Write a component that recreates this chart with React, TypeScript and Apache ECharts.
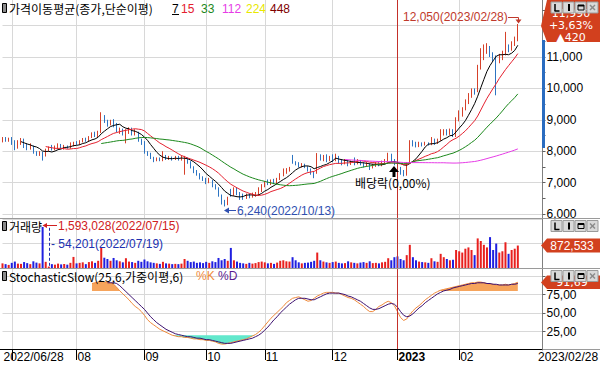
import React, { useEffect, useRef } from 'react';
import * as echarts from 'echarts';

// ---------------- data ----------------
const MONTH_DAYS: [string, number[]][] = [
  ['2022/06', [28, 29, 30]],
  ['2022/07', [1, 4, 5, 6, 7, 8, 11, 12, 13, 14, 15, 18, 19, 20, 21, 22, 25, 26, 27, 28, 29]],
  ['2022/08', [1, 2, 3, 4, 5, 8, 9, 10, 11, 12, 16, 17, 18, 19, 22, 23, 24, 25, 26, 29, 30, 31]],
  ['2022/09', [1, 2, 5, 6, 7, 8, 13, 14, 15, 16, 19, 20, 21, 22, 23, 26, 27, 28, 29, 30]],
  ['2022/10', [4, 5, 6, 7, 11, 12, 13, 14, 17, 18, 19, 20, 21, 24, 25, 26, 27, 28, 31]],
  ['2022/11', [1, 2, 3, 4, 7, 8, 9, 10, 11, 14, 15, 16, 17, 18, 21, 22, 23, 24, 25, 28, 29, 30]],
  ['2022/12', [1, 2, 5, 6, 7, 8, 9, 12, 13, 14, 15, 16, 19, 20, 21, 22, 23, 26, 27, 28, 29]],
  ['2023/01', [2, 3, 4, 5, 6, 9, 10, 11, 12, 13, 16, 17, 18, 19, 20, 25, 26, 27, 30, 31]],
  ['2023/02', [1, 2, 3, 6, 7, 8, 9, 10, 13, 14, 15, 16, 17, 20, 21, 22, 23, 24, 27, 28]],
];

// [open, close, low, high]
const CANDLES: number[][] = [
  [8300, 8420, 8280, 8450], [8420, 8330, 8300, 8450], [8330, 8400, 8300, 8430], [8400, 8250, 8200, 8450], [8300, 8050, 8030, 8350],
  [8100, 8300, 8080, 8350], [8250, 8380, 8200, 8420], [8380, 8150, 8100, 8400], [8200, 8080, 8030, 8250], [8080, 8200, 8050, 8250],
  [8150, 7950, 7920, 8180], [7950, 7880, 7850, 8000], [7880, 7950, 7850, 8000], [7950, 7820, 7700, 7980], [7850, 8050, 7830, 8080],
  [8050, 8120, 8000, 8150], [8120, 8050, 8020, 8200], [8050, 8150, 8030, 8180], [8100, 8200, 8080, 8250], [8200, 8100, 8080, 8230],
  [8100, 8150, 8050, 8200], [8150, 8100, 8080, 8180], [8100, 8250, 8080, 8280], [8200, 8280, 8150, 8300], [8280, 8220, 8200, 8320],
  [8220, 8330, 8200, 8350], [8300, 8380, 8280, 8420], [8400, 8320, 8300, 8430], [8330, 8450, 8300, 8480], [8450, 8550, 8420, 8600],
  [8600, 8480, 8450, 8620], [8500, 8600, 8450, 8650], [8600, 9100, 8580, 9240], [9100, 8950, 8900, 9150], [8950, 8850, 8780, 9000],
  [8850, 8950, 8820, 9000], [8950, 8800, 8760, 9020], [8850, 8650, 8600, 8900], [8650, 8700, 8550, 8750], [8700, 8550, 8500, 8720],
  [8550, 8620, 8250, 8700], [8600, 8720, 8550, 8760], [8720, 8550, 8500, 8750], [8550, 8650, 8500, 8700], [8600, 8350, 8300, 8620],
  [8350, 8300, 8200, 8400], [8300, 7950, 7920, 8320], [7950, 7900, 7850, 8000], [7900, 7780, 7750, 7950], [7800, 7700, 7650, 7820],
  [7700, 7780, 7680, 7800], [7780, 7700, 7680, 7800], [7700, 7850, 7680, 8000], [7850, 7750, 7720, 7880], [7750, 7800, 7720, 7850],
  [7800, 7750, 7700, 7830], [7750, 7800, 7720, 7850], [7800, 7720, 7700, 7850], [7720, 7800, 7700, 7870], [7650, 7800, 7250, 7850],
  [7780, 7650, 7600, 7800], [7650, 7500, 7450, 7680], [7500, 7350, 7300, 7520], [7350, 7250, 7220, 7400], [7250, 7150, 7100, 7300],
  [7150, 7100, 7050, 7200], [7100, 7000, 6950, 7150], [7000, 7100, 6980, 7150], [7050, 6900, 6850, 7080], [6900, 6800, 6780, 6950],
  [6800, 6600, 6550, 6850], [6600, 6400, 6300, 6620], [6400, 6300, 6240, 6450], [6300, 6500, 6280, 6550], [6750, 6600, 6550, 6800],
  [6600, 6800, 6580, 6850], [6800, 6650, 6600, 6830], [6650, 6550, 6450, 6700], [6600, 6500, 6450, 6650], [6500, 6600, 6480, 6650],
  [6600, 6550, 6500, 6650], [6550, 6600, 6520, 6680], [6600, 6650, 6550, 6700], [6600, 6800, 6580, 6850], [6750, 6900, 6700, 6950],
  [6900, 7000, 6850, 7050], [7050, 6950, 6920, 7100], [6950, 7050, 6920, 7100], [7050, 6980, 6950, 7120], [6980, 7100, 6950, 7150],
  [7100, 7250, 7080, 7300], [7250, 7350, 7200, 7450], [7300, 7400, 7280, 7460], [7400, 7480, 7350, 7500], [7850, 7650, 7600, 7880],
  [7650, 7580, 7550, 7680], [7600, 7520, 7480, 7650], [7520, 7580, 7480, 7620], [7580, 7500, 7460, 7600], [7500, 7400, 7350, 7520],
  [7400, 7300, 7250, 7450], [7300, 7200, 7140, 7350], [7300, 7850, 7280, 7940], [7850, 7750, 7700, 7900], [7700, 7850, 7680, 7880],
  [7850, 7700, 7650, 7900], [7700, 7800, 7680, 7850], [7850, 7700, 7650, 7900], [7700, 7800, 7680, 7920], [7800, 7650, 7600, 7850],
  [7700, 7600, 7550, 7750], [7600, 7700, 7580, 7750], [7700, 7600, 7520, 7720], [7600, 7650, 7560, 7700], [7700, 7600, 7550, 7800],
  [7600, 7700, 7580, 7750], [7700, 7600, 7550, 7720], [7620, 7550, 7480, 7650], [7550, 7600, 7500, 7650], [7600, 7480, 7400, 7620],
  [7480, 7550, 7450, 7600], [7550, 7600, 7500, 7650], [7600, 7550, 7520, 7650], [7550, 7650, 7520, 7700], [7600, 7700, 7580, 7750],
  [7700, 7900, 7680, 7950], [7900, 7700, 7650, 7920], [7700, 7600, 7550, 7750], [7600, 7400, 7300, 7650], [7450, 7350, 7250, 7500],
  [7350, 7300, 7200, 7400], [7300, 7600, 7220, 7650], [7650, 8300, 7620, 8350], [8300, 8200, 8150, 8350], [8250, 8150, 8120, 8300],
  [8150, 8250, 8130, 8300], [8250, 8200, 8150, 8280], [8200, 8250, 8180, 8300], [8250, 8200, 8180, 8280], [8200, 8400, 8190, 8450],
  [8350, 8250, 8200, 8400], [8250, 8350, 8230, 8400], [8350, 8600, 8330, 8700], [8550, 8650, 8500, 8700], [8650, 8550, 8500, 8700],
  [8550, 8650, 8520, 8720], [8650, 8500, 8450, 8700], [8500, 9000, 8450, 9080], [9000, 9200, 8950, 9300], [9150, 9350, 9100, 9400],
  [9350, 9550, 9300, 9650], [9550, 9750, 9500, 9850], [9750, 9900, 9700, 10000], [9950, 9850, 9800, 10000], [9900, 10650, 9880, 10750],
  [10650, 11100, 10600, 11280], [11050, 11200, 10900, 11400], [11200, 11350, 11100, 11440], [11300, 11050, 11000, 11350], [11050, 10950, 10850, 11150],
  [11000, 10850, 9780, 11050], [10850, 11000, 10800, 11100], [10950, 11100, 10900, 11200], [11100, 11300, 11050, 11800], [11300, 11250, 11150, 11400],
  [11250, 11400, 11200, 11500], [11400, 11570, 11350, 11650], [11570, 11990, 11500, 12050],
];

const VOLUMES: number[] = [
  180000, 150000, 120000, 200000, 250000, 170000, 160000, 230000, 190000, 150000,
  260000, 210000, 180000, 1593028, 240000, 54201, 150000, 130000, 170000, 140000,
  160000, 130000, 200000, 430000, 180000, 200000, 220000, 150000, 230000, 260000,
  200000, 280000, 780000, 400000, 350000, 280000, 390000, 300000, 260000, 220000,
  380000, 250000, 230000, 200000, 280000, 240000, 330000, 260000, 220000, 200000,
  180000, 160000, 240000, 180000, 170000, 150000, 160000, 150000, 170000, 350000,
  280000, 230000, 250000, 200000, 220000, 190000, 240000, 200000, 260000, 230000,
  390000, 300000, 350000, 280000, 780000, 300000, 250000, 200000, 180000, 160000,
  200000, 170000, 190000, 230000, 250000, 220000, 180000, 200000, 160000, 210000,
  280000, 300000, 260000, 250000, 420000, 300000, 220000, 180000, 200000, 210000,
  240000, 280000, 600000, 300000, 250000, 220000, 200000, 230000, 250000, 200000,
  180000, 190000, 260000, 220000, 200000, 180000, 210000, 230000, 200000, 260000,
  190000, 200000, 180000, 220000, 240000, 380000, 300000, 420000, 450000, 350000,
  300000, 500000, 900000, 420000, 300000, 250000, 230000, 220000, 200000, 380000,
  260000, 240000, 550000, 420000, 350000, 300000, 320000, 700000, 650000, 600000,
  750000, 800000, 700000, 500000, 1150000, 1050000, 900000, 800000, 1200000, 700000,
  950000, 600000, 650000, 1000000, 550000, 700000, 750000, 872533,
];

// Stochastic slow %K / %D (first value at trading day index 29 / 34)
const STOCH_K_START = 29;
const STOCH_K: number[] = [
  90, 91, 92, 93, 92, 92, 91, 89, 85, 80, 76, 72, 68, 63, 59, 56, 52, 47, 41, 37, 34,
  31, 28, 26, 24, 22, 20, 19, 18, 18, 17, 17, 16, 15, 15, 14, 14, 13, 13, 12, 11,
  9, 8, 8, 9, 10, 11, 12, 13, 14, 15, 17, 19, 21, 24, 28, 33, 38, 43, 47, 51,
  55, 59, 64, 67, 70, 71, 72, 70, 68, 66, 67, 70, 73, 75, 77, 78, 78, 78, 77, 77,
  75, 73, 71, 70, 68, 65, 62, 59, 55, 52, 52, 55, 59, 61, 64, 66, 64, 60, 52, 44,
  40, 42, 48, 53, 57, 60, 64, 68, 71, 74, 77, 79, 81, 82, 83, 84, 85, 86, 87, 88,
  89, 90, 91, 91, 92, 92, 91, 90, 89, 89, 88, 88, 88, 89, 88, 89, 90, 91.69,
];
const STOCH_D_START = 34;
const STOCH_D: number[] = [
  91, 91, 91, 90, 87, 83, 79, 75, 71, 67, 63, 59, 55, 50, 45, 41,
  37, 34, 31, 28, 26, 24, 22, 21, 20, 19, 18, 18, 17, 16, 16, 15, 14, 14, 13, 12,
  11, 10, 9, 9, 9, 10, 11, 12, 13, 14, 15, 16, 18, 20, 23, 27, 31, 36, 41, 45,
  50, 54, 58, 62, 65, 68, 70, 70, 70, 69, 68, 68, 70, 72, 74, 76, 77, 77, 77, 77,
  76, 75, 73, 72, 70, 68, 66, 63, 60, 57, 55, 55, 56, 58, 60, 62, 63, 62, 58, 52,
  47, 45, 46, 49, 53, 57, 60, 64, 67, 70, 73, 76, 78, 80, 81, 82, 84, 85, 86, 87,
  88, 89, 90, 90, 91, 91, 91, 90, 90, 89, 89, 88, 88, 88, 88, 89, 89, 90,
];

const MA_PERIODS = [7, 15, 33, 112, 224, 448];
const MA_COLORS = ['#000000', '#e4202e', '#1c881c', '#e63ce6', '#e8e800', '#800000'];
const PRICE_GRID = [6000, 7000, 8000, 9000, 10000, 11000, 12000];
const PRICE_LABELS = [6000, 7000, 8000, 9000, 10000, 11000]; // 12,000 sits under the price badge
const PRICE_MINOR_TICKS = [6500, 7500, 8500, 9500, 10500, 11500, 12500];
const STOCH_GRID = [25, 50, 75, 100];
const STOCH_LABELS = [25, 50, 75];
const STOCH_TITLE = 'StochasticSlow(25,6,가중이평,6)';
const DIVIDEND_TEXT = '배당락(0,00%)';

// ---------------- helpers ----------------
const DATES: string[] = MONTH_DAYS.flatMap(([m, ds]) => ds.map((d) => `${m}/${String(d).padStart(2, '0')}`));
const PAD = 8;
const CATEGORIES = [...DATES, ...Array.from({ length: PAD }, (_, k) => `pad${k}`)];

const UP = '#d6412a';
const DOWN = '#2d74c2';
const VOL_UP = '#e8201e';
const VOL_DOWN = '#1f1fe0';
const GRID_LINE = '#d8d8d8';
const BADGE = '#d2401e';
const NUM_FONT = '"Liberation Sans", "DejaVu Sans", "Noto Sans CJK KR", sans-serif';
const KR_FONT = '"Noto Sans CJK KR", "Liberation Sans", sans-serif';

const fmt = (v: number) => Math.round(v).toLocaleString('en-US');
const dec = (v: number) => v.toFixed(2).replace('.', ',');

function sma(arr: number[], n: number) {
  return arr.map((_, i) => {
    if (i < n - 1) return null;
    let s = 0;
    for (let k = i - n + 1; k <= i; k++) s += arr[k];
    return s / n;
  });
}
const place = (start: number, vals: number[]) =>
  DATES.map((_, i) => (i >= start && i - start < vals.length ? vals[i - start] : null));

function buildOption() {
  const closes = CANDLES.map((c) => c[1]);
  const slowK = place(STOCH_K_START, STOCH_K);
  const slowD = place(STOCH_D_START, STOCH_D);

  const monthStarts = new Set<number>();
  DATES.forEach((d, i) => {
    if (i > 0 && d.slice(0, 7) !== DATES[i - 1].slice(0, 7)) monthStarts.add(i);
  });
  const labelIdx = new Set<number>([0, ...[...monthStarts].filter((i) => i > 10)]);
  const yearStart = DATES.find((d, i) => monthStarts.has(i) && d.slice(5, 7) === '01') as string;

  const last = CANDLES.length - 1;
  const chg = closes[last] - closes[last - 1];
  const pct = (chg / closes[last - 1]) * 100;
  let hiIdx = 0, loIdx = 0;
  CANDLES.forEach((c, i) => {
    if (c[3] > CANDLES[hiIdx][3]) hiIdx = i;
    if (c[2] < CANDLES[loIdx][2]) loIdx = i;
  });
  let vMax = 0, vMin = 0;
  VOLUMES.forEach((v, i) => {
    if (v > VOLUMES[vMax]) vMax = i;
    if (v < VOLUMES[vMin]) vMin = i;
  });
  const lastK = STOCH_K[STOCH_K.length - 1];

  const yearLine = {
    symbol: ['none', 'none'],
    silent: true,
    label: { show: false },
    lineStyle: { color: '#c4302a', width: 1, type: 'solid' },
    data: [{ xAxis: yearStart }],
  };

  const xBase = (gridIndex: number) => ({
    type: 'category',
    gridIndex,
    data: CATEGORIES,
    boundaryGap: false,
    axisLine: { show: false },
    axisTick: { show: false },
    axisLabel: { show: false },
    splitLine: { show: true, interval: (i: number) => monthStarts.has(i), lineStyle: { color: GRID_LINE, width: 1 } },
  });

  const t = (text: string, x: number, y: number, fill: string, font = `12px ${NUM_FONT}`, align = 'left', lineHeight?: number) => ({
    type: 'text',
    z: 60,
    style: {
      text, x, y, fill, font, align, verticalAlign: 'middle', textAlign: align, textVerticalAlign: 'middle',
      ...(lineHeight ? { lineHeight } : {}),
    },
  });
  const ln = (x1: number, y1: number, x2: number, y2: number, stroke: string, z = 60, lineWidth = 1) => ({
    type: 'line',
    z,
    shape: { x1, y1, x2, y2 },
    style: { stroke, lineWidth },
  });
  const poly = (points: number[][], fill: string) => ({ type: 'polygon', z: 60, shape: { points }, style: { fill } });
  const icon = (y: number) => ({ type: 'rect', z: 60, shape: { x: 2.5, y, width: 4, height: 9 }, style: { fill: '#8a8a8a', stroke: '#000', lineWidth: 1 } });
  // window buttons (L, I, restore, close) drawn as shapes
  const buttons = (y: number) => {
    const els: any[] = [551, 563, 575, 587].map((x) => ({
      type: 'rect', z: 70, shape: { x, y, width: 11, height: 11 }, style: { fill: '#d9d9d9', stroke: '#9a9a9a', lineWidth: 1 },
    }));
    els.push(ln(555, y + 2, 555, y + 9, '#000', 71, 1.5));
    els.push(ln(554.5, y + 9, 559.5, y + 9, '#000', 71, 1.5));
    els.push({ type: 'rect', z: 71, shape: { x: 568, y: y + 2, width: 2, height: 7 }, style: { fill: '#000' } });
    els.push({ type: 'rect', z: 71, shape: { x: 578, y: y + 3, width: 6, height: 5 }, style: { fill: 'none', stroke: '#000', lineWidth: 1 } });
    els.push({ type: 'rect', z: 71, shape: { x: 578, y: y + 3, width: 6, height: 1.5 }, style: { fill: '#000' } });
    els.push(ln(590, y + 3, 595, y + 8, '#8a8a8a', 71, 1.5));
    els.push(ln(595, y + 3, 590, y + 8, '#8a8a8a', 71, 1.5));
    return els;
  };

  const BADGE_FONT = `11px "DejaVu Sans", ${NUM_FONT}`;

  const graphic: any[] = [
    ln(0, 218.5, 600, 218.5, '#9a9a9a'),
    ln(0, 268.5, 600, 268.5, '#9a9a9a'),
    ln(0, 349.5, 542.5, 349.5, '#000'),
    ln(542.5, 349.5, 600, 349.5, '#9a9a9a'),
    { type: 'rect', z: 55, shape: { x: 542, y: 40, width: 3, height: 108 }, style: { fill: '#2a6cc0' } },
    icon(3.5),
    t('가격이동평균(종가,단순이평)', 9, 8.5, '#000', `12px ${KR_FONT}`),
    t(String(MA_PERIODS[0]), 172, 8.5, '#000'),
    ln(172, 14.5, 179, 14.5, '#000'),
    t(String(MA_PERIODS[1]), 181, 8.5, MA_COLORS[1]),
    t(String(MA_PERIODS[2]), 201, 8.5, MA_COLORS[2]),
    t(String(MA_PERIODS[3]), 222, 8.5, MA_COLORS[3]),
    t(String(MA_PERIODS[4]), 246, 8.5, MA_COLORS[4]),
    t(String(MA_PERIODS[5]), 270, 8.5, MA_COLORS[5]),
    t(`${fmt(CANDLES[hiIdx][3])}(${DATES[hiIdx]})`, 403, 17, '#c0392b'),
    ln(508, 17.5, 518.5, 17.5, '#c0392b'),
    ln(518.5, 17.5, 518.5, 20, '#c0392b'),
    poly([[515.5, 19.5], [521.5, 19.5], [518.5, 23.5]], '#c0392b'),
    t(`${fmt(CANDLES[loIdx][2])}(${DATES[loIdx]})`, 237, 210.5, '#2f4fb0'),
    ln(227, 210.5, 236, 210.5, '#2f4fb0'),
    poly([[224, 210.5], [229, 207.5], [229, 213.5]], '#2f4fb0'),
    poly([[394, 166], [389, 172], [392.5, 172], [392.5, 177], [395.5, 177], [395.5, 172], [399, 172]], '#000'),
    t(DIVIDEND_TEXT, 355, 182.5, '#000', `12px ${KR_FONT}`),
    icon(221.5),
    t('거래량', 9, 226, '#000', `12px ${KR_FONT}`),
    ln(46, 225.5, 57, 225.5, '#d02020'),
    poly([[42.5, 225.5], [47, 223], [47, 228]], '#d02020'),
    t(`${fmt(VOLUMES[vMax])}(${DATES[vMax]})`, 58, 225.5, '#d02020'),
    t(`- ${fmt(VOLUMES[vMin])}(${DATES[vMin]})`, 51, 243.5, '#2030b0'),
    icon(271.5),
    t(STOCH_TITLE, 9, 276, '#000', `12px ${KR_FONT}`),
    t('%K', 196, 276, '#f08a3a'),
    t('%D', 218, 276, '#5a1a90'),
    t(DATES[last], 538, 357, '#000'),
    // badges
    poly([[547, 0], [600, 0], [600, 42], [547, 42], [541, 26]], BADGE),
    t(fmt(closes[last]), 571, 13, '#fff', BADGE_FONT, 'center', 11),
    t(`${chg >= 0 ? '+' : '-'}${dec(Math.abs(pct))}%`, 571, 25, '#fff', BADGE_FONT, 'center', 11),
    t(`${chg >= 0 ? '▲' : '▼'}${fmt(Math.abs(chg))}`, 571, 37, '#fff', BADGE_FONT, 'center', 11),
    poly([[547, 238.5], [600, 238.5], [600, 252.5], [547, 252.5], [541, 245.5]], BADGE),
    t(fmt(VOLUMES[last]), 572, 245.5, '#fff', `12px ${NUM_FONT}`, 'center', 11),
    poly([[547, 275.5], [600, 275.5], [600, 289], [547, 289], [541, 282.5]], BADGE),
    t(dec(lastK), 572, 282, '#fff', BADGE_FONT, 'center', 11),
    ...buttons(2),
    ...buttons(220.5),
    ...buttons(270.5),
  ];

  const maSeries = MA_PERIODS.map((n, k) => ({
    type: 'line',
    name: `MA${n}`,
    xAxisIndex: 0,
    yAxisIndex: 0,
    data: sma(closes, n),
    showSymbol: false,
    silent: true,
    z: 5,
    lineStyle: { color: MA_COLORS[k], width: 1 },
  }));

  const lineHidden = { opacity: 0, width: 0 };
  const stochBase = { type: 'line', xAxisIndex: 2, yAxisIndex: 3, showSymbol: false, silent: true };

  return {
    animation: false,
    backgroundColor: '#fff',
    textStyle: { fontFamily: NUM_FONT },
    grid: [
      { left: 2.5, right: 57.5, top: 0, height: 218, outerBoundsMode: 'none', containLabel: false },
      { left: 2.5, right: 57.5, top: 219, height: 49, outerBoundsMode: 'none', containLabel: false },
      { left: 2.5, right: 57.5, top: 268, height: 82, outerBoundsMode: 'none', containLabel: false },
    ],
    xAxis: [
      xBase(0),
      xBase(1),
      {
        ...xBase(2),
        axisTick: { show: true, interval: (i: number) => monthStarts.has(i), length: 10, lineStyle: { color: '#000' } },
        axisLabel: {
          show: true,
          interval: (i: number) => labelIdx.has(i),
          formatter: (v: string, i: number) => (i === 0 ? v : v.slice(5, 7) === '01' ? `{b|${v.slice(0, 4)}}` : v.slice(5, 7)),
          align: 'left',
          margin: 1,
          padding: [0, 0, 0, 1],
          color: '#000',
          fontSize: 12,
          fontFamily: NUM_FONT,
          rich: { b: { fontWeight: 'bold', fontSize: 12, fontFamily: NUM_FONT, color: '#000' } },
        },
      },
    ],
    yAxis: [
      {
        type: 'value', gridIndex: 0, position: 'right', min: 5872, max: 12815,
        axisLine: { show: true, lineStyle: { color: '#808080' } },
        axisTick: { show: true, customValues: PRICE_GRID, length: 3, lineStyle: { color: '#606060' } },
        axisLabel: { customValues: PRICE_LABELS, formatter: (v: number) => fmt(v), color: '#000', fontSize: 12, margin: 4, fontFamily: NUM_FONT },
        splitLine: { show: true, lineStyle: { color: GRID_LINE } },
      },
      {
        type: 'value', gridIndex: 0, position: 'right', offset: 0, min: 5872, max: 12815,
        axisLine: { show: false },
        axisTick: { show: true, customValues: PRICE_MINOR_TICKS, length: 3, lineStyle: { color: '#606060' } },
        axisLabel: { show: false },
        splitLine: { show: false },
      },
      {
        type: 'value', gridIndex: 1, position: 'right', min: 0, max: 1903800, interval: 951900,
        axisLine: { show: true, lineStyle: { color: '#808080' } },
        axisTick: { show: false },
        axisLabel: { show: false },
        splitLine: { show: true, lineStyle: { color: GRID_LINE } },
      },
      {
        type: 'value', gridIndex: 2, position: 'right', min: 0, max: 111,
        axisLine: { show: true, lineStyle: { color: '#808080' } },
        axisTick: { show: true, customValues: STOCH_GRID, length: 3, lineStyle: { color: '#606060' } },
        axisLabel: { customValues: STOCH_LABELS, formatter: (v: number) => dec(v), color: '#000', fontSize: 12, margin: 4, fontFamily: NUM_FONT },
        splitLine: { show: true, lineStyle: { color: GRID_LINE } },
      },
    ],
    graphic,
    series: [
      {
        type: 'candlestick',
        xAxisIndex: 0,
        yAxisIndex: 0,
        data: CANDLES,
        barWidth: 1.2,
        clip: false,
        silent: true,
        itemStyle: { color: UP, color0: DOWN, borderColor: UP, borderColor0: DOWN, borderWidth: 1 },
        markLine: yearLine,
      },
      ...maSeries,
      {
        type: 'bar',
        xAxisIndex: 1,
        yAxisIndex: 2,
        data: VOLUMES,
        barWidth: 2,
        silent: true,
        itemStyle: { color: (p: any) => (CANDLES[p.dataIndex][1] >= CANDLES[p.dataIndex][0] ? VOL_UP : VOL_DOWN) },
        markLine: {
          ...yearLine,
          data: [
            { xAxis: yearStart },
            [
              { coord: [DATES[vMin], VOLUMES[vMax] * 0.98], lineStyle: { color: '#2030b0', type: [3, 2], width: 1 } },
              { coord: [DATES[vMin], 0] },
            ],
          ],
        },
      },
      { ...stochBase, stack: 'ob', data: slowK.map((k) => (k == null ? null : 80)), lineStyle: lineHidden },
      { ...stochBase, stack: 'ob', data: slowK.map((k) => (k == null ? null : Math.max(k - 80, 0))), lineStyle: lineHidden, areaStyle: { color: '#f6a45c', opacity: 1 } },
      { ...stochBase, stack: 'os', data: slowK.map((k) => (k == null ? null : Math.min(k, 20))), lineStyle: lineHidden },
      { ...stochBase, stack: 'os', data: slowK.map((k) => (k == null ? null : 20 - Math.min(k, 20))), lineStyle: lineHidden, areaStyle: { color: '#62e8cc', opacity: 1 } },
      { ...stochBase, data: slowK, lineStyle: { color: '#ef8a3c', width: 1 }, z: 4, markLine: yearLine },
      { ...stochBase, data: slowD, lineStyle: { color: '#3e1270', width: 1 }, z: 4 },
    ],
  };
}

export default function App() {
  const ref = useRef<HTMLDivElement>(null);
  useEffect(() => {
    document.body.style.margin = '0';
    const chart = echarts.init(ref.current as HTMLDivElement, undefined, { renderer: 'svg', width: 600, height: 366 });
    chart.setOption(buildOption() as any);
    return () => chart.dispose();
  }, []);
  return <div ref={ref} style={{ width: 600, height: 366 }} />;
}
